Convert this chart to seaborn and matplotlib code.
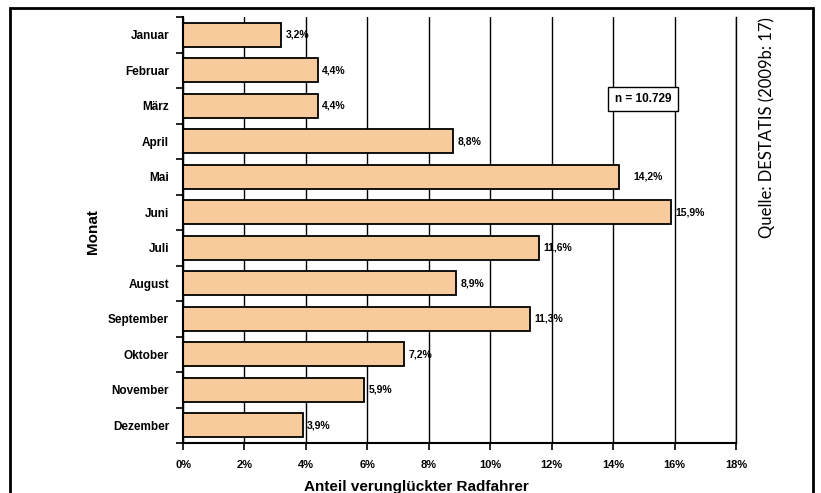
import matplotlib
matplotlib.use("Agg")
import matplotlib.pyplot as plt
from matplotlib.patches import Rectangle
from matplotlib.ticker import FixedLocator, FuncFormatter
import seaborn as sns
import pandas as pd

# Share of injured cyclists per month (percent)
months = ["Januar", "Februar", "März", "April", "Mai", "Juni", "Juli",
          "August", "September", "Oktober", "November", "Dezember"]
shares = [3.2, 4.4, 4.4, 8.8, 14.2, 15.9, 11.6, 8.9, 11.3, 7.2, 5.9, 3.9]
x_ticks = [0, 2, 4, 6, 8, 10, 12, 14, 16, 18]
n_text = "n = 10.729"
source_text = "Quelle: DESTATIS (2009b: 17)"
x_title = "Anteil verunglückter Radfahrer"
y_title = "Monat"

df = pd.DataFrame({"Monat": months, "Anteil": shares})

sns.set_theme(style="white")
plt.rcParams["font.family"] = ["Liberation Sans", "DejaVu Sans"]
plt.rcParams.update({"text.color": "black", "xtick.color": "black",
                     "ytick.color": "black", "axes.labelcolor": "black"})

fig = plt.figure(figsize=(8.21, 4.93), dpi=100)
ax = fig.add_axes([183 / 821, 1 - 443 / 493, (736 - 183) / 821, (443 - 17) / 493])

sns.barplot(data=df, x="Anteil", y="Monat", orient="h", color="#F8CB9C",
            saturation=1, edgecolor="black", linewidth=1.3, width=0.68, ax=ax)

ax.set_xlim(0, 18)
ax.set_ylim(11.5, -0.5)
ax.xaxis.set_major_locator(FixedLocator(x_ticks))
ax.xaxis.set_major_formatter(FuncFormatter(lambda v, p: f"{int(v)}%"))
ax.xaxis.grid(True, color="black", linewidth=1.0)
ax.set_axisbelow(True)

ax.spines["top"].set_visible(False)
ax.spines["right"].set_visible(True)
ax.spines["right"].set_color("black")
ax.spines["right"].set_linewidth(1.0)
for side in ("left", "bottom"):
    ax.spines[side].set_visible(True)
    ax.spines[side].set_color("black")
    ax.spines[side].set_linewidth(1.5)

# category boundary ticks on the y axis
ax.yaxis.set_minor_locator(FixedLocator([i - 0.5 for i in range(len(months) + 1)]))
ax.tick_params(axis="y", which="major", length=0, pad=10, labelsize=8.5)
ax.tick_params(axis="y", which="minor", left=True, length=5, width=1.2, color="black")
ax.tick_params(axis="x", which="major", bottom=True, length=5, width=1.2,
               color="black", pad=7, labelsize=8)
for lab in ax.get_yticklabels() + ax.get_xticklabels():
    lab.set_fontweight("bold")

ax.set_xlabel("")
ax.set_ylabel("")

# value labels at the bar ends
label_offsets = {"Mai": 10}
for i, (m, v) in enumerate(zip(months, shares)):
    txt = f"{v:.1f}".replace(".", ",") + "%"
    ax.annotate(txt, xy=(v, i), xytext=(label_offsets.get(m, 3), 0),
                textcoords="offset points", ha="left", va="center",
                fontsize=7.5, fontweight="bold", color="black")

# axis titles
fig.text(93 / 821, 1 - 232 / 493, y_title, rotation=90, ha="center", va="center",
         fontsize=11, fontweight="bold")
fig.text(416 / 821, 1 - 487 / 493, x_title, ha="center", va="center",
         fontsize=11, fontweight="bold")

# sample size box
fig.text(643 / 821, 1 - 99 / 493, n_text, ha="center", va="center",
         fontsize=8.5, fontweight="bold",
         bbox=dict(boxstyle="square,pad=0.55", facecolor="white",
                   edgecolor="black", linewidth=1.0))

# source note
fig.text(767 / 821, 1 - 17 / 493, source_text, rotation=90, ha="center", va="top",
         fontsize=12, family=["Lato", "DejaVu Sans"], fontweight="normal",
         color="black")

# outer frame
fig.patches.append(Rectangle((10 / 821, -0.1), (813 - 10) / 821, 1 - 8 / 493 + 0.1,
                             transform=fig.transFigure, fill=False,
                             edgecolor="black", linewidth=2.0, zorder=10))

fig.savefig("out.png", dpi=100)
